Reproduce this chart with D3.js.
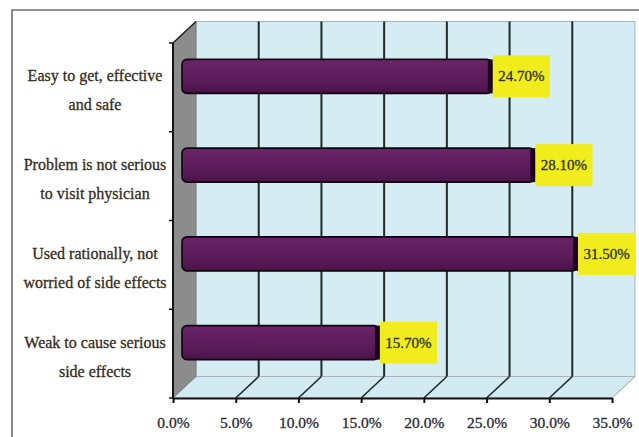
<!DOCTYPE html>
<html><head><meta charset="utf-8">
<script src="https://cdn.jsdelivr.net/npm/d3@7"></script>
<style>html,body{margin:0;padding:0;background:#fff;}svg{display:block;}</style>
</head><body>
<script>
const categories = [
  "Easy to get, effective\nand safe",
  "Problem is not serious\nto visit physician",
  "Used rationally, not\nworried of side effects",
  "Weak to cause serious\nside effects"
];
const values = [24.7, 28.1, 31.5, 15.7];
const valueLabels = ["24.70%", "28.10%", "31.50%", "15.70%"];
const tickValues = [0, 5, 10, 15, 20, 25, 30, 35];
const tickLabels = ["0.0%", "5.0%", "10.0%", "15.0%", "20.0%", "25.0%", "30.0%", "35.0%"];

const W = 639, H = 437;
const svg = d3.select("body").append("svg").attr("width", W).attr("height", H);

const x = d3.scaleLinear().domain([0, 35]).range([173, 612]);
const y = d3.scaleBand().domain(categories).range([43, 398]);
const dX = 23, dY = -21.5;      // depth offset of back wall
const bX = 9, bY = -11;         // depth offset of bar plane
const FONT = "Liberation Serif, Times New Roman, serif";

const defs = svg.append("defs");
const g = defs.append("linearGradient").attr("id", "barg").attr("x1", 0).attr("y1", 0).attr("x2", 0).attr("y2", 1);
g.append("stop").attr("offset", "0%").attr("stop-color", "#6a2467");
g.append("stop").attr("offset", "60%").attr("stop-color", "#5c1c5b");
g.append("stop").attr("offset", "100%").attr("stop-color", "#4a1249");

// outer border
svg.append("path").attr("d", `M12,${H+2} L12,10 L${W+2},10`).attr("fill", "none").attr("stroke", "#6e6e6e").attr("stroke-width", 1.6);

const x0 = x(0), x1 = x(35), yT = y.range()[0], yB = y.range()[1];

// back wall
svg.append("rect").attr("x", x0 + dX).attr("y", yT + dY).attr("width", x1 - x0).attr("height", yB - yT)
  .attr("fill", "#d4ecf2").attr("stroke", "#a8b4b8").attr("stroke-width", 1);

// floor
svg.append("polygon").attr("points", [[x0, yB], [x1, yB], [x1 + dX, yB + dY], [x0 + dX, yB + dY]].map(p => p.join(",")).join(" "))
  .attr("fill", "#d2ebf2").attr("stroke", "#a8b4b8").attr("stroke-width", 1);

// left wall
svg.append("polygon").attr("points", [[x0, yT], [x0 + dX, yT + dY], [x0 + dX, yB + dY], [x0, yB]].map(p => p.join(",")).join(" "))
  .attr("fill", "#8c8c8c").attr("stroke", "#777").attr("stroke-width", 0.8);

// vertical gridlines on back wall + floor diagonals
const grid = tickValues.filter(v => v > 0 && v < 35);
svg.selectAll(".gl").data(grid).enter().append("line")
  .attr("x1", d => x(d) + dX).attr("x2", d => x(d) + dX)
  .attr("y1", yT + dY).attr("y2", yB + dY)
  .attr("stroke", "#1e2a2a").attr("stroke-width", 2);
svg.selectAll(".fl").data(tickValues.filter(v => v > 0)).enter().append("line")
  .attr("x1", d => x(d)).attr("y1", yB)
  .attr("x2", d => x(d) + dX).attr("y2", yB + dY)
  .attr("stroke", d => d === 35 ? "#a8b4b8" : "#1e2a2a").attr("stroke-width", d => d === 35 ? 1 : 1.6);

// top-left diagonal edge of left wall
svg.append("line").attr("x1", x0).attr("y1", yT).attr("x2", x0 + dX).attr("y2", yT + dY)
  .attr("stroke", "#222").attr("stroke-width", 1.5);

// bars
const bh = 34;
const barG = svg.append("g");
categories.forEach((c, i) => {
  const cy = y(c) + y.bandwidth() / 2 + bY;
  const xs = x(0) + bX, xe = x(values[i]) + bX;
  barG.append("rect").attr("x", xs).attr("y", cy - bh / 2).attr("width", xe - xs).attr("height", bh)
    .attr("rx", 5).attr("ry", 5)
    .attr("fill", "url(#barg)").attr("stroke", "#0d030d").attr("stroke-width", 1.6);
  barG.append("rect").attr("x", xe - 4).attr("y", cy - bh / 2).attr("width", 5).attr("height", bh)
    .attr("fill", "#1c061c");
});

// value labels
categories.forEach((c, i) => {
  const cy = y(c) + y.bandwidth() / 2 + bY;
  const xe = x(values[i]) + bX;
  svg.append("rect").attr("x", xe + 1).attr("y", cy - 21).attr("width", 57).attr("height", 42).attr("fill", "#f1ed1c");
  svg.append("text").attr("x", xe + 1 + 28.5).attr("y", cy + 5)
    .attr("text-anchor", "middle").attr("font-family", FONT)
    .attr("font-size", 15).attr("fill", "#2e3020").attr("stroke", "#2e3020").attr("stroke-width", 0.3)
    .text(valueLabels[i]);
});

// left axis line and ticks
svg.append("line").attr("x1", x0).attr("x2", x0).attr("y1", yT).attr("y2", yB).attr("stroke", "#111").attr("stroke-width", 2);
const bounds = categories.map(c => y(c)).concat([yB]);
svg.selectAll(".lt").data(bounds).enter().append("line")
  .attr("x1", x0 - 4).attr("x2", x0).attr("y1", d => d).attr("y2", d => d).attr("stroke", "#111").attr("stroke-width", 1.5);

// bottom axis
const axis = d3.axisBottom(x).tickValues(tickValues).tickFormat((d, i) => tickLabels[i]).tickSizeInner(5).tickSizeOuter(0).tickPadding(14);
const ax = svg.append("g").attr("transform", `translate(0,${yB})`).call(axis);
ax.select(".domain").attr("stroke", "#111").attr("stroke-width", 2);
ax.selectAll(".tick line").attr("stroke", "#111").attr("stroke-width", 2);
ax.selectAll(".tick text").attr("font-family", FONT).attr("font-size", 15.5)
  .attr("fill", "#2a2a3a").attr("stroke", "#2a2a3a").attr("stroke-width", 0.3);

// category labels
categories.forEach(c => {
  const cy = y(c) + y.bandwidth() / 2 + bY;
  const lines = c.split("\n");
  const t = svg.append("text").attr("text-anchor", "middle")
    .attr("font-family", FONT).attr("font-size", 16)
    .attr("fill", "#352c22").attr("stroke", "#352c22").attr("stroke-width", 0.3);
  lines.forEach((ln, k) => {
    t.append("tspan").attr("x", 95).attr("y", cy + 5 + k * 29).text(ln);
  });
});
</script>
</body></html>
